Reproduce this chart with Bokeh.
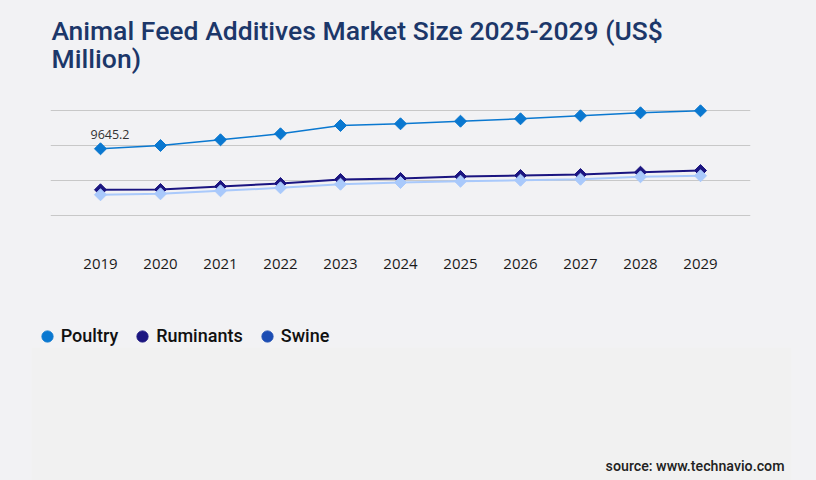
from bokeh.plotting import figure
from bokeh.models import (ColumnDataSource, FixedTicker, Label, Legend, LegendItem, Range1d)
from bokeh.layouts import column
from bokeh.core.properties import value
from bokeh.embed import file_html
from bokeh.resources import INLINE

# ---- data ----
years = ["2019", "2020", "2021", "2022", "2023", "2024", "2025", "2026", "2027", "2028", "2029"]
poultry = [9645.2, 9958, 10499, 11068, 11855, 12016, 12263, 12490, 12775, 13059, 13249]
ruminants = [5757, 5785, 6070, 6354, 6734, 6828, 7018, 7113, 7208, 7426, 7587]
swine = [5283, 5377, 5662, 5946, 6288, 6449, 6572, 6667, 6762, 6990, 7085]
grid_values = [0, 3320, 6640, 9960, 13280]
series_names = ["Poultry", "Ruminants", "Swine"]
line_colors = ["#0a78d0", "#1b1580", "#a9c9fb"]
legend_colors = ["#0a78d0", "#1b1580", "#1c4db3"]
title_lines = ["Animal Feed Additives Market Size 2025-2029 (US$", "Million)"]
source_text = "source: www.technavio.com"

BG = "#f2f2f4"
W = 816
MEDIUM = "'Roboto Medium', Roboto"


def blank(h):
    f = figure(width=W, height=h, output_backend="svg", toolbar_location=None,
               x_range=Range1d(0, W), y_range=Range1d(0, h), frame_align=False,
               min_border=0, min_border_left=0, min_border_right=0,
               min_border_top=0, min_border_bottom=0)
    f.axis.visible = False
    f.grid.visible = False
    f.background_fill_color = BG
    f.border_fill_color = BG
    f.outline_line_color = None
    return f


# ---- title strip (page y 0..90) ----
top = blank(90)
for txt, base in zip(title_lines, [29.5, 57.5]):
    top.add_layout(Label(x=51, y=90 - base, text=txt,
                         text_font=MEDIUM, text_font_style="normal",
                         text_font_size="26.5px",
                         text_color="#1c3769", text_baseline="alphabetic", text_align="left"))

# ---- chart (page y 90..300) ----
xi = list(range(len(years)))
p = figure(width=W, height=210, output_backend="svg", toolbar_location=None,
           x_range=Range1d(-0.8333, len(years) - 1 + 0.8333),
           y_range=Range1d(0, 14226), frame_align=False,
           min_border_left=50, min_border_right=66, min_border_top=10, min_border_bottom=50)
p.background_fill_color = BG
p.border_fill_color = BG
p.outline_line_color = None

p.yaxis.visible = False
p.xgrid.visible = False
p.ygrid.ticker = FixedTicker(ticks=grid_values)
p.ygrid.grid_line_color = "#c8c8c8"
p.ygrid.grid_line_width = 1

p.xaxis.ticker = FixedTicker(ticks=xi)
p.xaxis.major_label_overrides = {i: y for i, y in enumerate(years)}
p.xaxis.axis_line_color = None
p.xaxis.major_tick_line_color = None
p.xaxis.minor_tick_line_color = None
p.xaxis.major_label_text_font = "Open Sans"
p.xaxis.major_label_text_font_size = "15px"
p.xaxis.major_label_text_color = "#1a1a1a"
p.xaxis.major_label_standoff = 2

for vals, col, lw in [(poultry, line_colors[0], 1.5), (ruminants, line_colors[1], 2), (swine, line_colors[2], 2)]:
    src = ColumnDataSource(dict(x=xi, y=vals))
    p.line("x", "y", source=src, line_color=col, line_width=lw)
    p.scatter("x", "y", source=src, marker="square", angle=0.7854, size=8.5,
              fill_color=col, line_color=col)

p.text(x=[xi[0]], y=[poultry[0]], text=[f"{poultry[0]:.1f}"], x_offset=-10, y_offset=-14,
       text_font=value("Open Sans"), text_font_size="12.5px", text_color="#333333",
       text_align="left", text_baseline="alphabetic")

# ---- legend + source strip (page y 300..480) ----
bot = blank(180)
bot.quad(left=[31], right=[791], bottom=[0], top=[133], fill_color="#f1f1f1", line_color=None)
items = []
for name, col in zip(series_names, legend_colors):
    r = bot.scatter(x=[float("nan")], y=[float("nan")], marker="circle", fill_color=col, line_color=col)
    items.append(LegendItem(label=name, renderers=[r]))
legend = Legend(items=items, orientation="horizontal", location=(32.7, 130.3),
                glyph_width=28, glyph_height=28, label_standoff=0, spacing=10,
                padding=0, margin=0, border_line_color=None, background_fill_alpha=0,
                label_text_font=MEDIUM, label_text_font_size="18px", label_text_color="#111111")
bot.add_layout(legend, "center")
bot.add_layout(Label(x=784, y=180 - 165.3, text=source_text,
                     text_font=MEDIUM, text_font_size="14.2px", text_color="#222222",
                     text_baseline="alphabetic", text_align="right"))

layout = column(top, p, bot, spacing=0)
html = file_html(layout, INLINE)
html = html.replace("</head>", f"<style>html, body {{ background: {BG} !important; }}</style></head>", 1)
open("out.html", "w").write(html)
